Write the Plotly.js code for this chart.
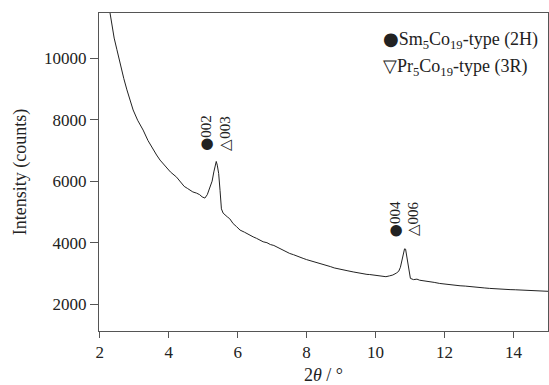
<!DOCTYPE html>
<html>
<head>
<meta charset="utf-8">
<script src="https://cdn.plot.ly/plotly-3.0.1.min.js"></script>
<style>html,body{margin:0;padding:0;background:#fff;}#chart{width:549px;height:385px;}</style>
</head>
<body>
<div id="chart"></div>
<script>
const twoTheta = [2.28,2.35,2.42,2.50,2.60,2.70,2.79,2.88,2.97,3.10,3.26,3.40,3.55,3.65,3.75,3.90,4.05,4.23,4.35,4.45,4.55,4.61,4.70,4.81,4.90,4.97,5.05,5.12,5.20,5.26,5.31,5.35,5.38,5.41,5.45,5.49,5.53,5.58,5.63,5.70,5.77,5.87,5.97,6.07,6.20,6.30,6.45,6.55,6.65,6.74,6.85,6.95,7.05,7.13,7.25,7.35,7.45,7.51,7.62,7.72,7.80,7.90,8.00,8.10,8.20,8.30,8.39,8.50,8.60,8.70,8.80,8.87,8.98,9.10,9.20,9.35,9.45,9.55,9.65,9.75,9.83,9.95,10.05,10.15,10.22,10.30,10.40,10.50,10.60,10.67,10.72,10.76,10.80,10.84,10.87,10.90,10.93,10.97,11.01,11.10,11.20,11.28,11.40,11.50,11.60,11.70,11.86,12.00,12.15,12.30,12.45,12.60,12.70,12.83,13.00,13.15,13.30,13.45,13.60,13.79,13.90,14.05,14.20,14.35,14.47,14.60,14.75,14.88,15.00];
const intensity = [11600,11100,10650,10270,9750,9330,8966,8620,8313,7980,7660,7320,7010,6850,6685,6480,6300,6130,5960,5830,5760,5710,5650,5610,5560,5490,5450,5560,5780,6000,6300,6560,6640,6520,6250,5700,5100,4960,4900,4840,4780,4620,4520,4410,4340,4270,4190,4140,4080,4030,4000,3940,3910,3865,3790,3730,3690,3650,3610,3560,3540,3490,3450,3420,3390,3350,3325,3280,3250,3220,3180,3160,3140,3100,3085,3050,3025,3010,2995,2970,2965,2945,2920,2905,2890,2895,2920,2950,3010,3070,3200,3380,3620,3800,3790,3600,3350,3050,2840,2800,2815,2780,2765,2740,2725,2710,2675,2655,2630,2615,2600,2590,2575,2565,2545,2530,2515,2500,2490,2480,2475,2470,2465,2458,2455,2450,2440,2432,2420];

const xTicks = [2,4,6,8,10,12,14];
const yTicks = [2000,4000,6000,8000,10000];

const dot = '<span style="font-family:DejaVu Sans">●</span>';
const peakLabels = [dot+'002','△003',dot+'004','△006'];
const peakLabelX = [5.10,5.65,10.56,11.09];
const peakLabelY = [7560,7560,4760,4760];

const legendLines = [dot+'Sm<sub>5</sub>Co<sub>19</sub>-type (2H)','▽Pr<sub>5</sub>Co<sub>19</sub>-type (3R)'];

const serif = 'Liberation Serif, Times New Roman, serif';
const annotations = peakLabels.map((t,i)=>({
  x: peakLabelX[i], y: peakLabelY[i], xref:'x', yref:'y', text:t, showarrow:false,
  textangle:-90, font:{family:serif,size:15,color:'#222'}, xanchor:'center', yanchor:'middle'
}));
legendLines.forEach((t,i)=>annotations.push({
  x:0.627, y:[0.915,0.830][i], xref:'paper', yref:'paper', text:t, showarrow:false,
  xanchor:'left', yanchor:'middle', font:{family:serif,size:18,color:'#222'}
}));

Plotly.newPlot('chart',[{
  x: twoTheta, y: intensity, type:'scatter', mode:'lines',
  line:{color:'#222',width:1}, hoverinfo:'skip'
}],{
  width:549, height:385,
  margin:{l:99,r:1,t:13,b:54},
  paper_bgcolor:'#fff', plot_bgcolor:'#fff',
  showlegend:false,
  font:{family:serif,size:17,color:'#222'},
  xaxis:{
    range:[1.98,15], tickvals:xTicks, ticktext:xTicks.map(String),
    showgrid:false, zeroline:false, showline:true, linecolor:'#555', linewidth:1,
    mirror:true, ticks:'outside', ticklen:6, tickcolor:'#555',
    tickfont:{family:serif,size:17,color:'#222'},
    title:{text:'2<i>θ</i> / °', font:{family:serif,size:18,color:'#222'}, standoff:6}
  },
  yaxis:{
    range:[1130,11465], tickvals:yTicks, ticktext:yTicks.map(String),
    showgrid:false, zeroline:false, showline:true, linecolor:'#555', linewidth:1,
    mirror:true, ticks:'outside', ticklen:8, tickcolor:'#555',
    tickfont:{family:serif,size:17,color:'#222'},
    title:{text:'Intensity (counts)', font:{family:serif,size:18,color:'#222'}, standoff:12}
  },
  annotations: annotations
},{staticPlot:true,displayModeBar:false});
</script>
</body>
</html>
